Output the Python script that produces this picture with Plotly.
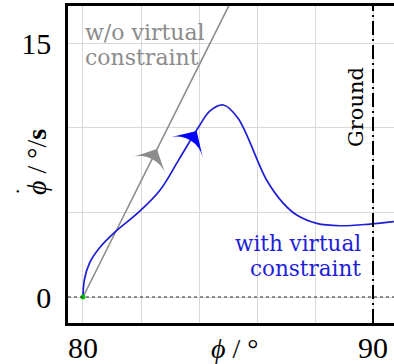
import plotly.graph_objects as go

# with virtual constraint (blue)
with_x = [80.00, 80.045, 80.22, 80.56, 81.08, 81.94, 82.66, 83.30, 84.03, 84.38,
          84.84, 85.34, 86.33, 86.91, 87.37, 88.06, 88.86, 89.90, 90.72]
with_y = [0.00, 1.00, 1.99, 2.88, 3.80, 5.04, 6.32, 8.10, 10.16, 11.00,
          11.34, 10.57, 6.91, 5.53, 4.84, 4.35, 4.21, 4.31, 4.45]

# without virtual constraint (gray)
wo_x = [80.0, 85.1]
wo_y = [0.0, 17.45]

# direction arrows (tip positions)
wo_arrow_x = [82.55]
wo_arrow_y = [8.75]
with_arrow_x = [83.92]
with_arrow_y = [9.80]

start_x = [80.0]
start_y = [0.0]

ground_x = 90.0

x_ticks = [80, 82, 84, 86, 88, 90]
x_ticktext = ["80", "", "", "", "", "90"]
y_ticks = [0, 5, 10, 15]
y_ticktext = ["0", "", "", "15"]

SERIF = "Liberation Serif"
TXT = "DejaVu Serif"
BLUE = "rgb(30,30,215)"
GRAY = "rgb(140,140,140)"

fig = go.Figure()
fig.add_trace(go.Scatter(x=wo_x, y=wo_y, mode="lines",
                         line=dict(color=GRAY, width=1.6), hoverinfo="skip"))
fig.add_trace(go.Scatter(x=with_x, y=with_y, mode="lines",
                         line=dict(color=BLUE, width=1.7, shape="spline", smoothing=1.0),
                         hoverinfo="skip"))
fig.add_trace(go.Scatter(x=wo_arrow_x, y=wo_arrow_y, mode="markers",
                         marker=dict(symbol="arrow-wide", size=27, angle=26.6, color=GRAY,
                                     line=dict(width=0))))
fig.add_trace(go.Scatter(x=with_arrow_x, y=with_arrow_y, mode="markers",
                         marker=dict(symbol="arrow-wide", size=27, angle=32, color="rgb(0,0,255)",
                                     line=dict(width=0))))
fig.add_trace(go.Scatter(x=start_x, y=start_y, mode="markers",
                         marker=dict(size=5, color="rgb(0,200,0)")))

# zero line (dotted)
fig.add_shape(type="line", xref="paper", x0=0, x1=1, yref="y", y0=0, y1=0,
              line=dict(color="rgb(40,40,40)", width=1, dash="dot"), layer="above")
# ground line
fig.add_shape(type="line", xref="x", x0=ground_x, x1=ground_x, yref="paper", y0=0, y1=1,
              line=dict(color="black", width=2, dash="14px,4px,2px,4px"))

ann = []
ann.append(dict(x=80.0, y=15.65, xref="x", yref="y", text="w/o virtual", showarrow=False,
                xanchor="left", yanchor="middle", font=dict(family=TXT, size=22, color=GRAY)))
ann.append(dict(x=80.0, y=14.12, xref="x", yref="y", text="constraint", showarrow=False,
                xanchor="left", yanchor="middle", font=dict(family=TXT, size=22, color=GRAY)))
ann.append(dict(x=89.655, y=3.19, xref="x", yref="y", text="with virtual", showarrow=False,
                xanchor="right", yanchor="middle", font=dict(family=TXT, size=21.5, color=BLUE)))
ann.append(dict(x=89.655, y=1.71, xref="x", yref="y", text="constraint", showarrow=False,
                xanchor="right", yanchor="middle", font=dict(family=TXT, size=21.5, color=BLUE)))
ann.append(dict(x=89.41, y=11.22, xref="x", yref="y", text="Ground", showarrow=False,
                textangle=-90, xanchor="center", yanchor="middle",
                font=dict(family=TXT, size=21, color="black")))
ann.append(dict(x=0.512, y=-0.079, xref="paper", yref="paper", text="<i>ϕ</i> / °",
                showarrow=False, xanchor="center", yanchor="middle",
                font=dict(family=SERIF, size=28, color="black")))
ann.append(dict(x=-0.095, y=0.508, xref="paper", yref="paper", text="<i>ϕ</i> / °/<b>s</b>",
                showarrow=False, textangle=-90, xanchor="center", yanchor="middle",
                font=dict(family=SERIF, size=28, color="black")))
ann.append(dict(x=-0.152, y=0.414, xref="paper", yref="paper", text="•",
                showarrow=False, xanchor="center", yanchor="middle",
                font=dict(family=SERIF, size=10, color="black")))

fig.update_layout(
    width=394, height=364,
    margin=dict(l=68, r=0, t=6, b=41),
    paper_bgcolor="white", plot_bgcolor="white",
    showlegend=False,
    annotations=ann,
    xaxis=dict(range=[79.483, 90.724], tickvals=x_ticks, ticktext=x_ticktext,
               showgrid=True, gridcolor="rgb(217,217,217)", gridwidth=1,
               zeroline=False, showline=True, linecolor="black", linewidth=2.5,
               mirror=True, ticks="", ticklabelstandoff=-4, automargin=False,
               tickfont=dict(family=SERIF, size=30, color="black")),
    yaxis=dict(range=[-1.536, 17.19], tickvals=y_ticks, ticktext=y_ticktext,
               showgrid=True, gridcolor="rgb(217,217,217)", gridwidth=1,
               zeroline=False, showline=True, linecolor="black", linewidth=2.5,
               mirror=False, ticks="", ticklabelstandoff=8, automargin=False,
               tickfont=dict(family=SERIF, size=30, color="black")),
)

fig.write_html("out.html", post_script="document.body.style.margin='0';",
               config={"displayModeBar": False})
